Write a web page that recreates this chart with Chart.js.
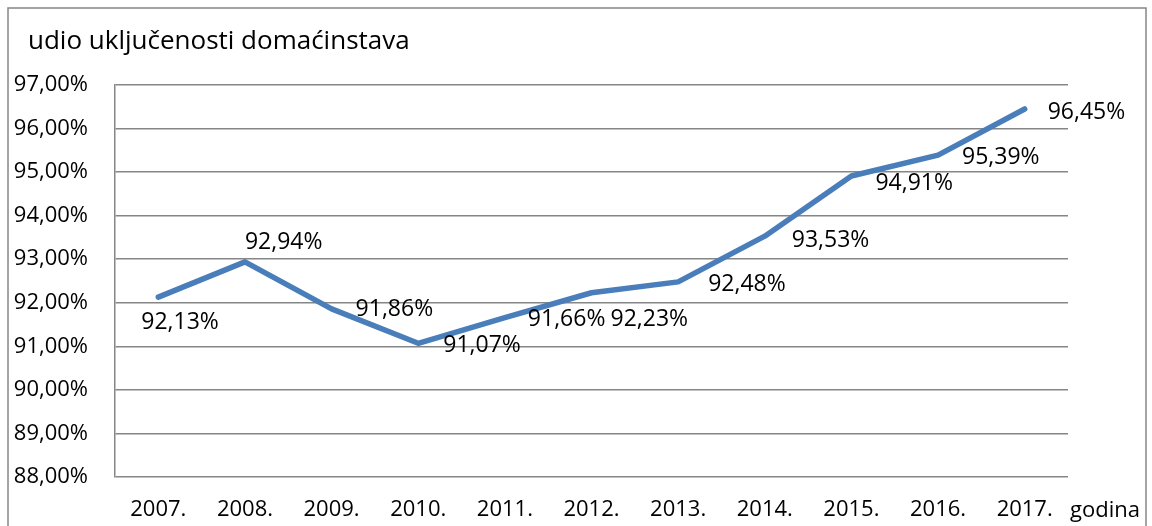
<!DOCTYPE html>
<html>
<head>
<meta charset="utf-8">
<script src="https://cdn.jsdelivr.net/npm/chart.js@4"></script>
<style>
  html, body { margin: 0; padding: 0; background: #fff; }
  #wrap { width: 1152px; height: 526px; }
</style>
</head>
<body>
<div id="wrap"><canvas id="chart" width="1152" height="526"></canvas></div>
<script>
// data
const years = ['2007.', '2008.', '2009.', '2010.', '2011.', '2012.', '2013.', '2014.', '2015.', '2016.', '2017.'];
const shares = [92.13, 92.94, 91.86, 91.07, 91.66, 92.23, 92.48, 93.53, 94.91, 95.39, 96.45];
const yTitle = 'udio uključenosti domaćinstava';
const xTitle = 'godina';

// label nudges relative to each point (left edge, vertical middle), like hand-placed excel labels
const labelNudge = [[-17, 25], [0, -19], [24, 1], [25, 2], [23, 2], [19, 27], [30, 3], [27, 4], [24, 7], [24, 2], [23, 3]];

const FONT = '"Open Sans", sans-serif';
const fmt = v => v.toFixed(2).replace('.', ',') + '%';

// outer frame, title text, "godina" and the value labels
const decorations = {
    id: 'decorations',
    beforeDraw(chart) {
        const ctx = chart.ctx;
        ctx.save();
        ctx.strokeStyle = '#868686';
        ctx.lineWidth = 1.5;
        ctx.strokeRect(8, 8, 1138, 540);
        ctx.restore();
    },
    afterDatasetsDraw(chart) {
        const ctx = chart.ctx;
        const meta = chart.getDatasetMeta(0);
        const xs = chart.scales.x;
        ctx.save();
        ctx.fillStyle = '#000';
        ctx.textBaseline = 'middle';
        ctx.textAlign = 'left';
        ctx.font = '26px ' + FONT;
        ctx.fillText(yTitle, 28, 42);
        ctx.font = '23px ' + FONT;
        meta.data.forEach((pt, i) => {
            const n = labelNudge[i];
            ctx.fillText(fmt(shares[i]), pt.x + n[0], pt.y + n[1]);
        });
        ctx.font = '22px ' + FONT;
        ctx.fillText(xTitle, xs.right + 2, 511);
        ctx.restore();
    }
};

new Chart(document.getElementById('chart'), {
    type: 'line',
    data: {
        labels: years,
        datasets: [{
            data: shares,
            borderColor: '#4a7ebb',
            borderWidth: 5.5,
            borderCapStyle: 'round',
            borderJoinStyle: 'round',
            pointRadius: 0,
            tension: 0,
            fill: false
        }]
    },
    options: {
        responsive: false,
        animation: false,
        layout: { padding: { left: 0, top: 85, right: 84, bottom: 0 } },
        plugins: {
            legend: { display: false },
            tooltip: { enabled: false }
        },
        scales: {
            x: {
                offset: true,
                grid: { display: false, drawTicks: false },
                border: { display: false },
                ticks: { color: '#000', font: { family: FONT, size: 22 }, padding: 20, maxRotation: 0 },
                afterFit(s) { s.height = 49; }
            },
            y: {
                min: 88,
                max: 97,
                grid: { color: '#868686', lineWidth: 1.5, drawTicks: false },
                border: { display: true, color: '#868686', width: 1.5 },
                ticks: {
                    stepSize: 1,
                    color: '#000',
                    font: { family: FONT, size: 22 },
                    padding: 27,
                    callback: v => fmt(v)
                },
                afterFit(s) { s.width = 115; }
            }
        }
    },
    plugins: [decorations]
});
</script>
</body>
</html>
